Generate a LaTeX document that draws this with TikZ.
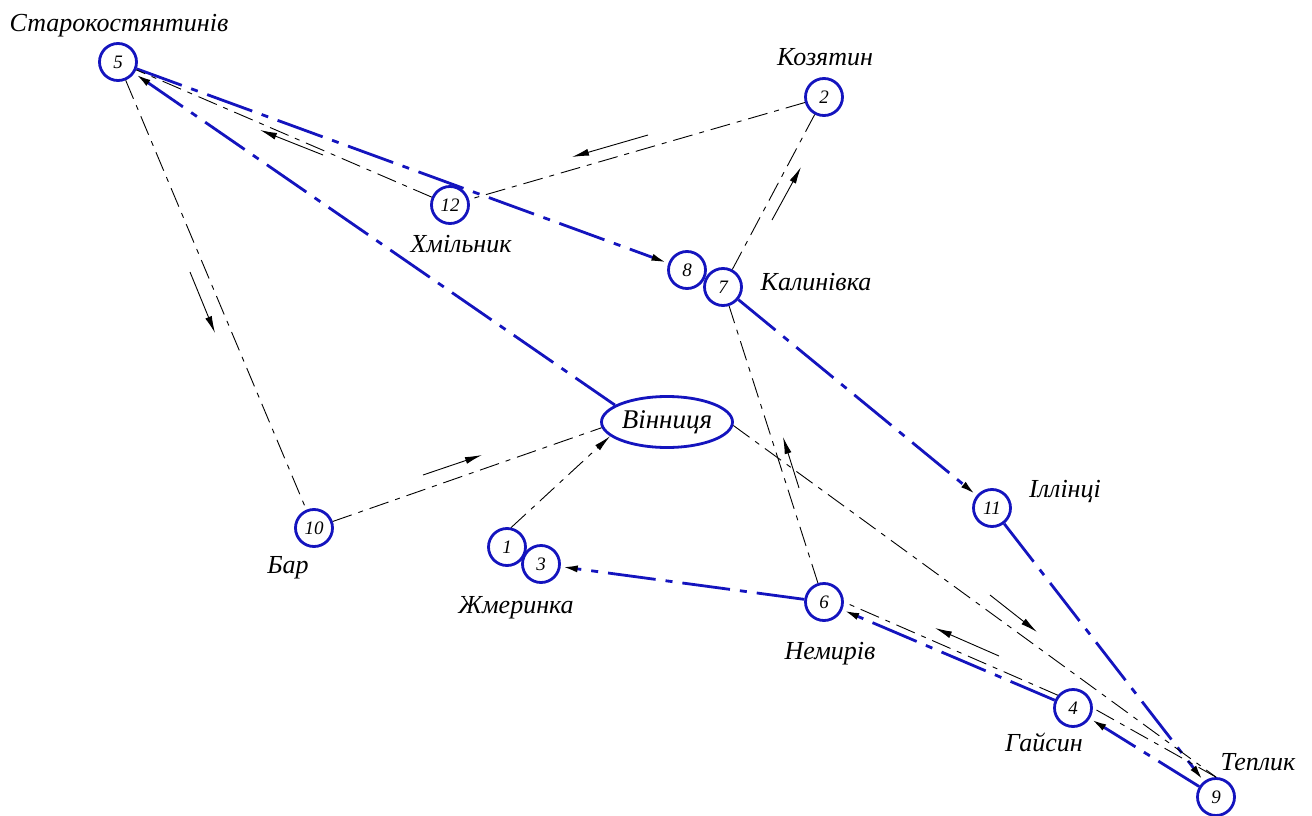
\documentclass[tikz,border=0pt]{standalone}
\usepackage{fontspec}
\setmainfont{Liberation Serif}
\usetikzlibrary{arrows.meta,shapes.geometric}
\definecolor{routeblue}{RGB}{20,20,190}
\begin{document}
\begin{tikzpicture}[x=1pt,y=-1pt,
  town/.style={circle,draw=routeblue,line width=2.8pt,minimum size=37pt,inner sep=0pt,
    font=\fontsize{19}{19}\selectfont\itshape},
  city/.style={ellipse,draw=routeblue,line width=2.8pt,minimum width=131pt,minimum height=51pt,
    inner sep=0pt,font=\fontsize{27}{27}\selectfont\itshape},
  placename/.style={anchor=base,inner sep=0pt,font=\fontsize{26}{26}\selectfont\itshape},
  headtip/.style={-{Latex[length=17pt,width=7pt,color=black]}},
  bluepath/.style={draw=routeblue,line width=2.8pt,dash pattern=on 48pt off 10pt on 7pt off 10pt,headtip},
  thinpath/.style={draw=black,line width=0.9pt,dash pattern=on 20pt off 7pt on 5pt off 7pt},
  dirarrow/.style={draw=black,line width=0.9pt,-{Latex[length=17pt,width=7pt]}},
]
\useasboundingbox (0,0) rectangle (1312,816);

% stations
\node[town] (n5)  at (118,62)  {5};
\node[town] (n2)  at (824,97)  {2};
\node[town] (n12) at (450,205) {12};
\node[town] (n8)  at (687,270) {8};
\node[town] (n7)  at (723,287) {7};
\node[city] (V)   at (667,422) {Вінниця};
\node[town] (n10) at (314,528) {10};
\node[town] (n1)  at (507,547) {1};
\node[town] (n3)  at (541,564) {3};
\node[town] (n6)  at (824,602) {6};
\node[town] (n11) at (992,508) {11};
\node[town] (n4)  at (1073,708) {4};
\node[town] (n9)  at (1216,797) {9};

% town names
\node[placename] (l5)  at (119,32)  {Старокостянтинів};
\node[placename] (l2)  at (825,66)  {Козятин};
\node[placename] (l12) at (461,252) {Хмільник};
\node[placename] (l7)  at (816,290) {Калинівка};
\node[placename] (l11) at (1065,497) {Іллінці};
\node[placename] (l10) at (288,573) {Бар};
\node[placename] (l1)  at (516,613) {Жмеринка};
\node[placename] (l6)  at (830,659) {Немирів};
\node[placename] (l4)  at (1044,751) {Гайсин};
\node[placename] (l9)  at (1258,770) {Теплик};

% main (blue) routes
\draw[bluepath] (V.162) -- (n5);
\draw[bluepath] (n5) -- (n8);
\draw[bluepath] (n7) -- (n11);
\draw[bluepath] (n11) -- (n9);
\draw[bluepath] (n9) -- (n4);
\draw[bluepath] (n4) -- (n6);
\draw[bluepath] (n6) -- (n3);

% secondary (thin) route
\draw[thinpath,headtip] (n1.78) -- (V.194);
\draw[thinpath] (V.357) -- (n9.north);
\draw[thinpath] (n9.north) -- (n4.east);
\draw[thinpath] (n4.140) -- (n6.east);
\draw[thinpath] (n6) -- (n7);
\draw[thinpath] (n7) -- (n2);
\draw[thinpath] (n2) -- (n12);
\draw[thinpath] (n12) -- (n5);
\draw[thinpath] (n5) -- (n10);
\draw[thinpath] (n10) -- (V.185);

% direction marks beside the thin route
\coordinate (a1s) at (648,135); \coordinate (a1e) at (572,157);
\coordinate (a2s) at (323,155); \coordinate (a2e) at (260,130);
\coordinate (a3s) at (190,272); \coordinate (a3e) at (215,333);
\coordinate (a4s) at (423,475); \coordinate (a4e) at (482,455);
\coordinate (a5s) at (990,595); \coordinate (a5e) at (1037,632);
\coordinate (a6s) at (999,656); \coordinate (a6e) at (935,628);
\coordinate (a7s) at (799,488); \coordinate (a7e) at (783,437);
\coordinate (a8s) at (772,220); \coordinate (a8e) at (801,167);
\draw[dirarrow] (a1s) -- (a1e);
\draw[dirarrow] (a2s) -- (a2e);
\draw[dirarrow] (a3s) -- (a3e);
\draw[dirarrow] (a4s) -- (a4e);
\draw[dirarrow] (a5s) -- (a5e);
\draw[dirarrow] (a6s) -- (a6e);
\draw[dirarrow] (a7s) -- (a7e);
\draw[dirarrow] (a8s) -- (a8e);
\end{tikzpicture}
\end{document}
